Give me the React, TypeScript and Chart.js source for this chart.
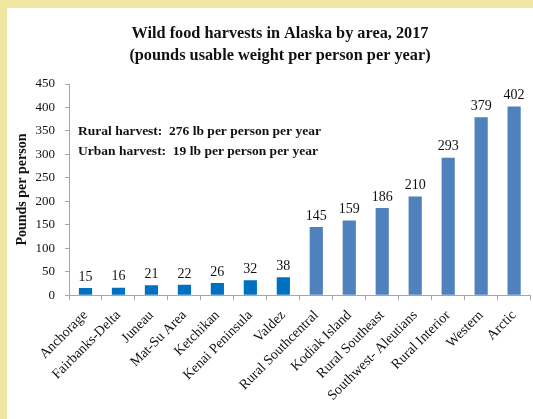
import { useEffect, useRef } from 'react';
import { Chart, registerables } from 'chart.js';

Chart.register(...registerables);

const categories = [
  'Anchorage', 'Fairbanks-Delta', 'Juneau', 'Mat-Su Area', 'Ketchikan', 'Kenai Peninsula', 'Valdez',
  'Rural Southcentral', 'Kodiak Island', 'Rural Southeast', 'Southwest- Aleutians', 'Rural Interior', 'Western', 'Arctic',
];
const harvestValues = [15, 16, 21, 22, 26, 32, 38, 145, 159, 186, 210, 293, 379, 402];
const areaTypes = ['urban', 'urban', 'urban', 'urban', 'urban', 'urban', 'urban', 'rural', 'rural', 'rural', 'rural', 'rural', 'rural', 'rural'];
const titleLines = ['Wild food harvests in Alaska by area, 2017', '(pounds usable weight per person per year)'];
const noteLines = ['Rural harvest:  276 lb per person per year', 'Urban harvest:  19 lb per person per year'];
const noteValues = [348, 306];
const yMin = 0;
const yMax = 450;
const yStep = 50;

const SERIF = '"Liberation Serif", "Times New Roman", serif';
const URBAN = '#0070C0';
const RURAL = '#4F81BD';
const AXIS = '#A6A6A6';
const TEXT = '#111111';

const titleBlock = {
  id: 'titleBlock',
  afterDraw(chart: any) {
    const ctx = chart.ctx;
    ctx.save();
    ctx.font = `bold 16.3px ${SERIF}`;
    ctx.fillStyle = TEXT;
    ctx.textAlign = 'center';
    ctx.textBaseline = 'middle';
    titleLines.forEach((line, i) => {
      ctx.fillText(line, chart.width / 2 + 10, 26 + i * 22);
    });
    ctx.restore();
  },
};

const valueLabels = {
  id: 'valueLabels',
  afterDatasetsDraw(chart: any) {
    const ctx = chart.ctx;
    const meta = chart.getDatasetMeta(0);
    ctx.save();
    ctx.font = `14px ${SERIF}`;
    ctx.fillStyle = TEXT;
    ctx.textAlign = 'center';
    ctx.textBaseline = 'bottom';
    meta.data.forEach((bar: any, i: number) => {
      ctx.fillText(String(harvestValues[i]), bar.x, bar.y - 4);
    });
    ctx.restore();
  },
};

const notes = {
  id: 'notes',
  afterDraw(chart: any) {
    const ctx = chart.ctx;
    const y = chart.scales.y;
    ctx.save();
    ctx.font = `bold 13.5px ${SERIF}`;
    ctx.fillStyle = TEXT;
    ctx.textAlign = 'left';
    ctx.textBaseline = 'middle';
    noteLines.forEach((line, i) => {
      ctx.fillText(line, chart.chartArea.left + 9, y.getPixelForValue(noteValues[i]));
    });
    ctx.restore();
  },
};

export default function App() {
  const ref = useRef<HTMLCanvasElement>(null);
  useEffect(() => {
    const chart = new Chart(ref.current as HTMLCanvasElement, {
      type: 'bar',
      data: {
        labels: categories,
        datasets: [
          {
            data: harvestValues,
            backgroundColor: areaTypes.map((t) => (t === 'urban' ? URBAN : RURAL)),
            barPercentage: 0.8,
            categoryPercentage: 0.5,
          },
        ],
      },
      options: {
        responsive: false,
        animation: false,
        layout: { padding: { left: 7, right: 0, top: 76, bottom: 8 } },
        plugins: {
          legend: { display: false },
          tooltip: { enabled: false },
          title: { display: false },
        },
        scales: {
          x: {
            grid: { drawOnChartArea: false, drawTicks: true, tickLength: 5, color: AXIS },
            border: { display: true, color: AXIS },
            ticks: {
              color: TEXT,
              font: { family: SERIF, size: 14 },
              minRotation: 45,
              maxRotation: 45,
              autoSkip: false,
              padding: 7,
            },
          },
          y: {
            min: yMin,
            max: yMax,
            afterFit(scale: any) {
              scale.width = 55;
            },
            grid: { drawOnChartArea: false, drawTicks: true, tickLength: 4, color: AXIS },
            border: { display: true, color: AXIS },
            ticks: {
              stepSize: yStep,
              color: TEXT,
              font: { family: SERIF, size: 13 },
              padding: 10,
            },
            title: {
              display: true,
              text: 'Pounds per person',
              color: TEXT,
              font: { family: SERIF, size: 14, weight: 'bold' },
              padding: { top: 0, bottom: 0 },
            },
          },
        },
      },
      plugins: [titleBlock, valueLabels, notes],
    });
    return () => chart.destroy();
  }, []);
  return (
    <div style={{ position: 'absolute', left: 0, top: 0, width: 533, height: 419, background: '#F1E6A1' }}>
      <div style={{ position: 'absolute', left: 7, top: 8, width: 526, height: 411, background: '#ffffff' }}>
        <canvas ref={ref} width={526} height={411} style={{ display: 'block' }} />
      </div>
    </div>
  );
}
